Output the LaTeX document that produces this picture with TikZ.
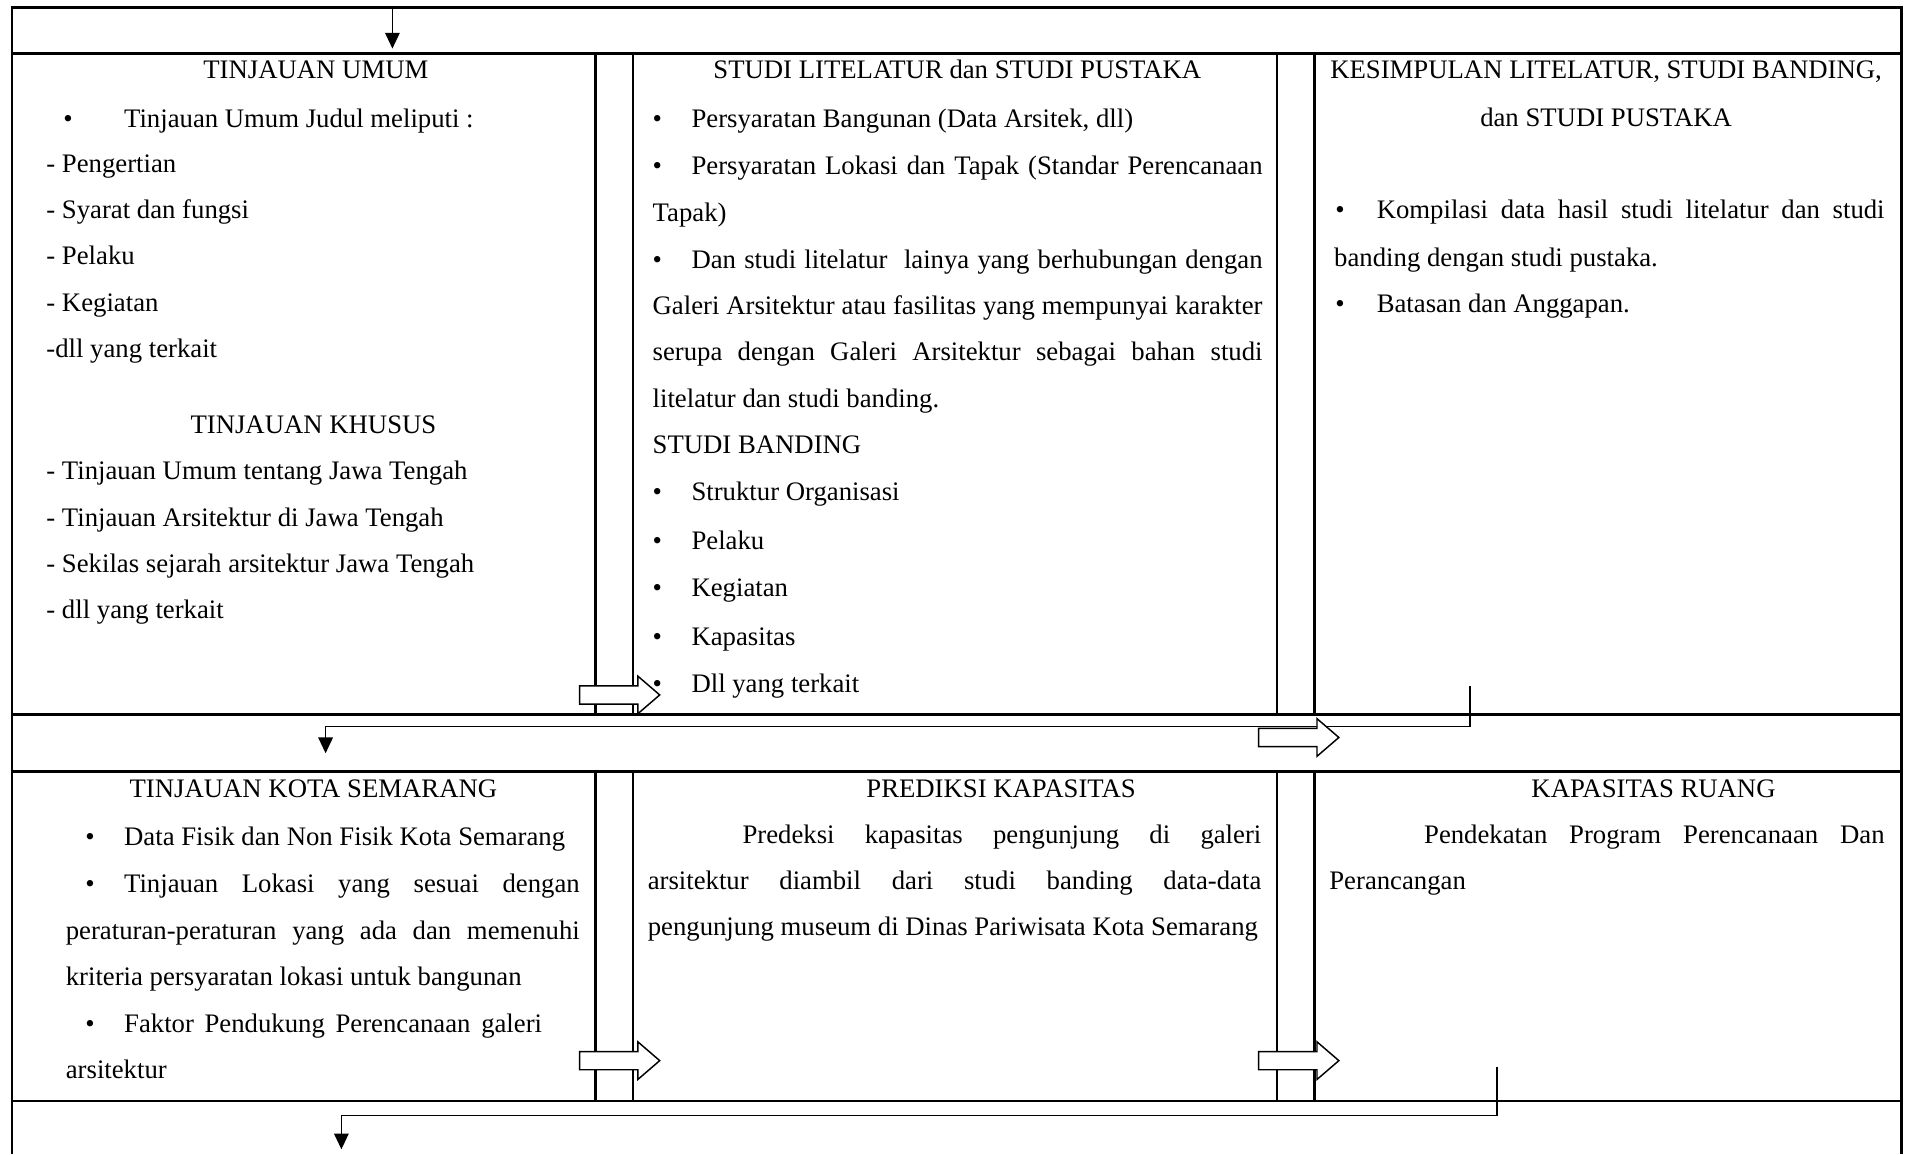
\documentclass[tikz,border=0pt]{standalone}
\usepackage{fontspec}
\setmainfont{Liberation Serif}
\usetikzlibrary{arrows.meta}
\newcommand\fs{\fontsize{22}{26}\selectfont}
\newcommand\jb[2]{\makebox[#1pt][s]{#2}}
\tikzset{
  frame/.style={line width=2pt},
  conn/.style={line width=1.2pt, -{Triangle[length=13pt,width=12pt]}},
  txt/.style={anchor=base west, inner sep=0pt, font=\fs},
  ctr/.style={anchor=base, inner sep=0pt, font=\fs},
  blockarr/.pic={\draw[line width=1.2pt, fill=white, line join=miter] (0,-7.5) -- (48,-7.5) -- (48,-15.5) -- (66,0) -- (48,15.5) -- (48,7.5) -- (0,7.5) -- cycle;}
}
\begin{document}
\begin{tikzpicture}[x=1pt,y=-1pt]
\useasboundingbox (0,0) rectangle (1568,950);
% frame
\draw[frame] (10,950) -- (10,6) -- (1565,6) -- (1565,950);
\draw[frame] (10,44) -- (1565,44);
\draw[frame] (10,588) -- (1565,588);
\draw[frame] (10,635) -- (1565,635);
\draw[frame] (10,906) -- (1565,906);
\foreach \x in {490,521,1051,1082}{
  \draw[frame] (\x,44) -- (\x,588);
  \draw[frame] (\x,635) -- (\x,906);
}
% connectors
\coordinate (tA) at (323,6);
\coordinate (tB) at (323,40);
\draw[conn] (tA) -- (tB);
\coordinate (c1s) at (1210,565);
\coordinate (c1k) at (268,598);
\coordinate (c1e) at (268,620);
\draw[conn] (c1s) |- (c1k) -- (c1e);
\coordinate (c2s) at (1232,878);
\coordinate (c2k) at (281,918);
\coordinate (c2e) at (281,946);
\draw[conn] (c2s) |- (c2k) -- (c2e);
% block arrows
\pic at (477,572) {blockarr};
\pic at (1036,607) {blockarr};
\pic at (477,873) {blockarr};
\pic at (1036,873) {blockarr};
\begin{scope}[yshift=-1pt]
% row 1 left
\node[ctr] (h1) at (260,64) {TINJAUAN UMUM};
\node[txt] (b1) at (52,104) {•};
\node[txt] (l1) at (102,104) {Tinjauan Umum Judul meliputi :};
\node[txt] (l2) at (38,141) {- Pengertian};
\node[txt] (l3) at (38,179) {- Syarat dan fungsi};
\node[txt] (l4) at (38,217) {- Pelaku};
\node[txt] (l5) at (38,255) {- Kegiatan};
\node[txt] (l6) at (38,293) {-dll yang terkait};
\node[ctr] (h2) at (258,356) {TINJAUAN KHUSUS};
\node[txt] (l7) at (38,394) {- Tinjauan Umum tentang Jawa Tengah};
\node[txt] (l8) at (38,432) {- Tinjauan Arsitektur di Jawa Tengah};
\node[txt] (l9) at (38,470) {- Sekilas sejarah arsitektur Jawa Tengah};
\node[txt] (l10) at (38,508) {- dll yang terkait};
% row 1 middle
\node[ctr] (h3) at (788,64) {STUDI LITELATUR dan STUDI PUSTAKA};
\node[txt] (mb1) at (537,104) {•};
\node[txt] (m1) at (569,104) {Persyaratan Bangunan (Data Arsitek, dll)};
\node[txt] (mb2) at (537,143) {•};
\node[txt] (m2) at (569,143) {\jb{470}{Persyaratan Lokasi dan Tapak (Standar Perencanaan}};
\node[txt] (m3) at (537,181) {Tapak)};
\node[txt] (mb3) at (537,220) {•};
\node[txt] (m4) at (569,220) {\jb{470}{Dan studi litelatur \ lainya yang berhubungan dengan}};
\node[txt] (m5) at (537,258) {\jb{502}{Galeri Arsitektur atau fasilitas yang mempunyai karakter}};
\node[txt] (m6) at (537,296) {\jb{502}{serupa dengan Galeri Arsitektur sebagai bahan studi}};
\node[txt] (m7) at (537,334) {litelatur dan studi banding.};
\node[txt] (m8) at (537,372) {STUDI BANDING};
\node[txt] (mb4) at (537,411) {•};
\node[txt] (m9) at (569,411) {Struktur Organisasi};
\node[txt] (mb5) at (537,451) {•};
\node[txt] (m10) at (569,451) {Pelaku};
\node[txt] (mb6) at (537,490) {•};
\node[txt] (m11) at (569,490) {Kegiatan};
\node[txt] (mb7) at (537,530) {•};
\node[txt] (m12) at (569,530) {Kapasitas};
\node[txt] (mb8) at (537,569) {•};
\node[txt] (m13) at (569,569) {Dll yang terkait};
% row 1 right
\node[ctr] (h4) at (1322,64) {KESIMPULAN LITELATUR, STUDI BANDING,};
\node[ctr] (h5) at (1322,103) {dan STUDI PUSTAKA};
\node[txt] (rb1) at (1099,179) {•};
\node[txt] (r1) at (1133,179) {\jb{418}{Kompilasi data hasil studi litelatur dan studi}};
\node[txt] (r2) at (1098,218) {banding dengan studi pustaka.};
\node[txt] (rb2) at (1099,256) {•};
\node[txt] (r3) at (1133,256) {Batasan dan Anggapan.};
% row 2 left
\node[ctr] (h6) at (258,655) {TINJAUAN KOTA SEMARANG};
\node[txt] (sb1) at (70,695) {•};
\node[txt] (s1) at (102,695) {Data Fisik dan Non Fisik Kota Semarang};
\node[txt] (sb2) at (70,734) {•};
\node[txt] (s2) at (102,734) {\jb{375}{Tinjauan Lokasi yang sesuai dengan}};
\node[txt] (s3) at (54,772) {\jb{423}{peraturan-peraturan yang ada dan memenuhi}};
\node[txt] (s4) at (54,810) {kriteria persyaratan lokasi untuk bangunan};
\node[txt] (sb3) at (70,849) {•};
\node[txt] (s5) at (102,849) {\jb{344}{Faktor Pendukung Perencanaan galeri}};
\node[txt] (s6) at (54,887) {arsitektur};
% row 2 middle
\node[ctr] (h7) at (824,655) {PREDIKSI KAPASITAS};
\node[txt] (p1) at (611,693) {\jb{427}{Predeksi kapasitas pengunjung di galeri}};
\node[txt] (p2) at (533,731) {\jb{505}{arsitektur diambil dari studi banding data-data}};
\node[txt] (p3) at (533,769) {pengunjung museum di Dinas Pariwisata Kota Semarang};
% row 2 right
\node[ctr] (h8) at (1361,655) {KAPASITAS RUANG};
\node[txt] (q1) at (1172,693) {\jb{379}{Pendekatan Program Perencanaan Dan}};
\node[txt] (q2) at (1094,731) {Perancangan};
\end{scope}
\end{tikzpicture}
\end{document}
